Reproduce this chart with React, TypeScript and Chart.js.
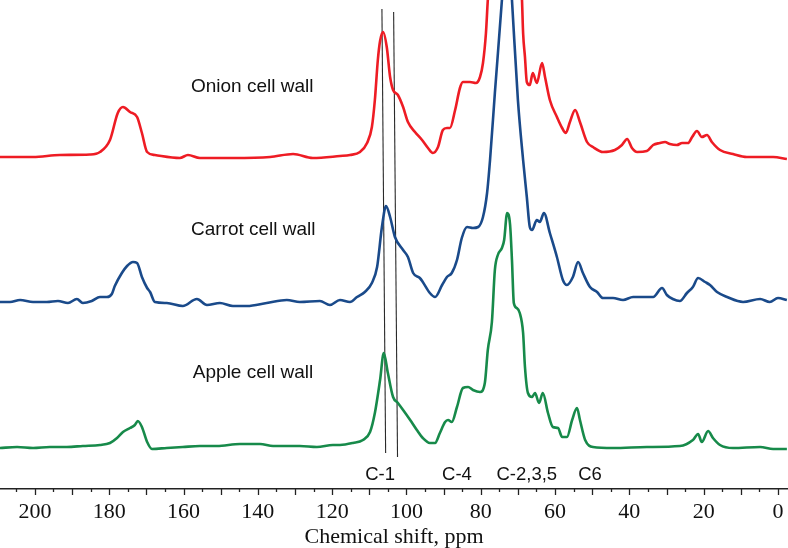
import React, { useEffect, useRef } from 'react';
import { Chart, registerables } from 'chart.js';

Chart.register(...registerables);

// ---- axis ----
const X_MIN = -2.7;
const X_MAX = 209.4;
const Y_MIN = 0;
const Y_MAX = 489;
const TICK_LABELS = [200, 180, 160, 140, 120, 100, 80, 60, 40, 20, 0];
const MAJOR_TICKS = [200, 190, 180, 170, 160, 150, 140, 130, 120, 110, 100, 90, 80, 70, 60, 50, 40, 30, 20, 10, 0];
const MINOR_TICKS = [205, 195, 185, 175, 165, 155, 145, 135, 125, 115, 105, 95, 85, 75, 65, 55, 45, 35, 25, 15, 5];
const AXIS_TITLE = 'Chemical shift, ppm';

// ---- series (ppm, relative intensity) ----
const ONION_PPM = [209.4, 200.5, 193.3, 185.2, 182.5, 179.8, 177.7, 176.3, 174.4, 172.5, 171.2, 169.8, 167.7, 161.0, 158.8, 155.6, 146.7, 136.7, 130.5, 125.2, 117.9, 115.2, 112.5, 110.6, 109.3, 108.5, 107.7, 107.1, 106.3, 105.3, 104.4, 103.6, 102.3, 100.9, 99.6, 97.7, 95.8, 94.2, 92.9, 91.5, 90.2, 89.1, 88.3, 86.9, 85.6, 84.8, 82.9, 81.3, 80.2, 79.4, 78.6, 78.1, 76.5, 74.3, 72.9, 71.3, 70.0, 68.9, 68.6, 68.1, 67.6, 66.8, 66.0, 64.9, 63.5, 62.7, 61.4, 59.5, 58.1, 57.1, 56.0, 54.6, 53.3, 51.4, 49.8, 47.1, 43.9, 42.0, 40.6, 39.3, 37.9, 35.3, 33.6, 31.8, 30.4, 29.1, 27.2, 25.8, 24.2, 23.1, 21.8, 20.5, 19.1, 17.8, 15.6, 12.1, 8.4, 4.8, 1.3, -2.4];
const ONION_INT = [0, 0, 2, 2.5, 5, 17, 44, 50, 45, 40, 24, 5, 2, -1, 2, -1, -1, 0, 3, -1, 1, 2, 5, 14, 30, 57, 97, 116, 125, 110, 80, 67, 62, 50, 35, 25, 17, 9, 4, 10, 27, 29, 29, 47, 69, 75, 75, 74, 80, 94, 124, 157, 240, 300, 310, 290, 230, 157, 124, 100, 75, 72, 84, 74, 94, 80, 57, 40, 29, 24, 35, 47, 35, 15, 10, 5, 7, 12, 18, 9, 5, 6, 12, 14, 15, 13, 12, 14, 14, 20, 26, 20, 22, 15, 7, 3, 0, 0, 0, -2];

const CARROT_PPM = [209.4, 206.7, 204.0, 200.5, 196.8, 193.8, 191.1, 188.7, 187.1, 184.7, 182.5, 180.6, 179.3, 178.5, 176.6, 175.2, 173.6, 172.5, 171.2, 169.8, 169.0, 167.7, 164.5, 160.2, 156.4, 153.7, 150.2, 146.7, 142.9, 137.6, 132.2, 128.7, 123.3, 120.6, 117.9, 115.2, 113.3, 111.2, 109.3, 107.9, 106.6, 105.5, 104.4, 103.1, 100.9, 99.6, 98.2, 96.4, 95.6, 93.7, 92.3, 90.4, 89.1, 87.8, 86.4, 85.1, 83.7, 82.1, 80.7, 79.4, 78.3, 77.5, 76.2, 74.3, 72.9, 71.6, 70.0, 68.6, 67.6, 66.8, 66.2, 64.9, 64.1, 63.0, 61.4, 59.5, 57.9, 56.8, 55.2, 53.8, 52.5, 50.6, 48.7, 47.1, 44.4, 41.7, 39.0, 35.3, 33.6, 31.2, 29.9, 28.3, 26.4, 24.5, 22.9, 21.5, 19.6, 18.3, 16.4, 13.7, 9.4, 4.8, 2.2, 0.0, -2.4];
const CARROT_INT = [0, 0, 2, 0, 0, 1, -1, 3, -1, 1, 5, 5, 8, 16, 29, 36, 40, 39, 25, 14, 10, 0, -1, -4, 3, -3, -1, -4, -4, -1, 2, 0, 1, -3, 2, 0, 5, 10, 19, 35, 75, 96, 85, 65, 52, 45, 29, 24, 20, 9, 5, 17, 25, 29, 42, 64, 75, 74, 75, 85, 109, 142, 209, 302, 380, 302, 202, 142, 105, 75, 72, 82, 80, 89, 69, 45, 22, 17, 25, 40, 29, 15, 10, 4, 4, 2, 5, 5, 5, 14, 7, 3, 1, 9, 15, 24, 20, 17, 10, 5, 0, 3, 0, 4, 2];

const APPLE_PPM = [209.4, 204.8, 200.5, 196.0, 191.4, 187.1, 182.5, 179.8, 177.9, 176.3, 174.4, 173.1, 172.3, 171.2, 169.8, 168.5, 164.5, 160.2, 155.6, 151.0, 144.8, 139.4, 135.9, 128.7, 124.1, 119.8, 117.9, 114.4, 111.7, 109.8, 108.5, 107.1, 106.1, 105.0, 103.6, 102.3, 100.9, 99.0, 97.2, 95.6, 93.7, 92.3, 91.0, 89.6, 88.8, 87.8, 86.4, 84.8, 83.4, 82.1, 80.2, 78.9, 78.1, 77.0, 76.2, 75.4, 74.3, 73.7, 72.9, 72.1, 71.6, 71.1, 70.3, 69.5, 68.6, 68.1, 67.3, 66.2, 65.4, 64.3, 63.3, 61.9, 60.6, 59.2, 58.1, 56.8, 55.4, 54.1, 53.3, 51.9, 49.8, 44.4, 35.3, 26.4, 22.9, 21.5, 20.5, 18.8, 17.5, 15.6, 12.1, 4.8, 1.3, -2.4];
const APPLE_INT = [0, 1, 0, 1, 1, 2, 3, 5, 10, 16, 20, 23, 27, 21, 6, -1, 0, 1, 2, 2, 4, 4, 2, 2, 1, 3, 3, 5, 8, 16, 35, 68, 95, 75, 51, 45, 38, 28, 18, 10, 5, 5, 15, 26, 28, 26, 41, 60, 61, 58, 56, 65, 98, 126, 178, 193, 200, 208, 235, 223, 188, 145, 140, 135, 115, 81, 55, 51, 55, 45, 55, 35, 21, 20, 11, 11, 28, 40, 28, 8, 1, 0, 1, 2, 8, 14, 6, 17, 10, 3, 0, 1, -1, -1];

// vertical offsets that stack the three spectra
const ONION_OFFSET = 332;
const CARROT_OFFSET = 187;
const APPLE_OFFSET = 41;

// C-1 reference lines (ppm at top/bottom, height)
const LINE_A_PPM = [106.6, 105.6];
const LINE_A_Y = [480, 36];
const LINE_B_PPM = [103.45, 102.4];
const LINE_B_Y = [477, 32];

// text annotations
const SERIES_NAMES = ['Onion cell wall', 'Carrot cell wall', 'Apple cell wall'];
const SERIES_LABEL_PPM = [158.0, 158.0, 157.5];
const SERIES_LABEL_Y = [402, 259, 116];
const PEAK_NAMES = ['C-1', 'C-4', 'C-2,3,5', 'C6'];
const PEAK_PPM = [107.1, 86.4, 67.6, 50.6];
const PEAK_Y = [14, 14, 14, 14];

const RED = '#ee1c24';
const BLUE = '#1a4a8a';
const GREEN = '#178a4a';
const SERIF = "'Times New Roman', 'Liberation Serif', serif";
const SANS = "Arial, 'Liberation Sans', sans-serif";

const toPoints = (ppm: number[], intensity: number[], offset: number) =>
  ppm.map((x, i) => ({ x, y: intensity[i] + offset }));

const annotationPlugin = {
  id: 'annotations',
  afterDatasetsDraw(chart: any) {
    const { ctx, scales } = chart;
    const xs = scales.x;
    const ys = scales.y;
    ctx.save();
    ctx.fillStyle = '#111';
    ctx.textBaseline = 'middle';
    ctx.textAlign = 'left';
    ctx.font = `19px ${SANS}`;
    SERIES_NAMES.forEach((n, i) => {
      ctx.fillText(n, xs.getPixelForValue(SERIES_LABEL_PPM[i]), ys.getPixelForValue(SERIES_LABEL_Y[i]));
    });
    ctx.textAlign = 'center';
    ctx.font = `18.5px ${SANS}`;
    PEAK_NAMES.forEach((n, i) => {
      ctx.fillText(n, xs.getPixelForValue(PEAK_PPM[i]), ys.getPixelForValue(PEAK_Y[i]));
    });
    ctx.restore();
  },
  afterDraw(chart: any) {
    const { ctx, chartArea } = chart;
    const xs = chart.scales.x;
    const b = chartArea.bottom;
    ctx.save();
    ctx.strokeStyle = '#222';
    ctx.lineWidth = 1.3;
    const draw = (v: number, len: number) => {
      const px = Math.round(xs.getPixelForValue(v)) + 0.5;
      ctx.beginPath();
      ctx.moveTo(px, b);
      ctx.lineTo(px, b + len);
      ctx.stroke();
    };
    MAJOR_TICKS.forEach((v) => draw(v, 6));
    MINOR_TICKS.forEach((v) => draw(v, 3));
    ctx.restore();
  },
};

export default function App() {
  const ref = useRef<HTMLCanvasElement | null>(null);

  useEffect(() => {
    if (!ref.current) return;
    const spectrum = (data: any[], color: string) => ({
      data,
      borderColor: color,
      borderWidth: 2.6,
      pointRadius: 0,
      fill: false,
      cubicInterpolationMode: 'monotone' as const,
    });
    const refLine = (data: any[]) => ({
      data,
      borderColor: '#2a2a2a',
      borderWidth: 1.1,
      pointRadius: 0,
      fill: false,
    });
    const chart = new Chart(ref.current, {
      type: 'line',
      data: {
        datasets: [
          spectrum(toPoints(ONION_PPM, ONION_INT, ONION_OFFSET), RED),
          spectrum(toPoints(CARROT_PPM, CARROT_INT, CARROT_OFFSET), BLUE),
          spectrum(toPoints(APPLE_PPM, APPLE_INT, APPLE_OFFSET), GREEN),
          refLine(LINE_A_PPM.map((x, i) => ({ x, y: LINE_A_Y[i] }))),
          refLine(LINE_B_PPM.map((x, i) => ({ x, y: LINE_B_Y[i] }))),
        ] as any,
      },
      options: {
        animation: false,
        responsive: false,
        layout: { padding: 0 },
        plugins: { legend: { display: false }, tooltip: { enabled: false } },
        scales: {
          x: {
            type: 'linear',
            reverse: true,
            min: X_MIN,
            max: X_MAX,
            afterBuildTicks: (s: any) => {
              s.ticks = TICK_LABELS.map((v) => ({ value: v }));
            },
            ticks: {
              color: '#111',
              font: { family: SERIF, size: 22, lineHeight: 1 },
              padding: 0.5,
              maxRotation: 0,
              autoSkip: false,
              callback: (v: any) => String(v),
            },
            grid: {
              display: true,
              drawOnChartArea: false,
              drawTicks: true,
              tickLength: 12,
              tickColor: 'rgba(0,0,0,0)',
            },
            border: { display: true, color: '#222', width: 1.5 },
            title: {
              display: true,
              text: AXIS_TITLE,
              color: '#111',
              font: { family: SERIF, size: 22, lineHeight: 1 },
              padding: { top: 2, bottom: 0 },
            },
          },
          y: { type: 'linear', display: false, min: Y_MIN, max: Y_MAX },
        },
      } as any,
      plugins: [annotationPlugin],
    });
    return () => chart.destroy();
  }, []);

  return (
    <div style={{ position: 'absolute', left: 0, top: 0, width: 788, height: 548, background: '#fff' }}>
      <canvas ref={ref} width={788} height={548} style={{ display: 'block' }} />
    </div>
  );
}
